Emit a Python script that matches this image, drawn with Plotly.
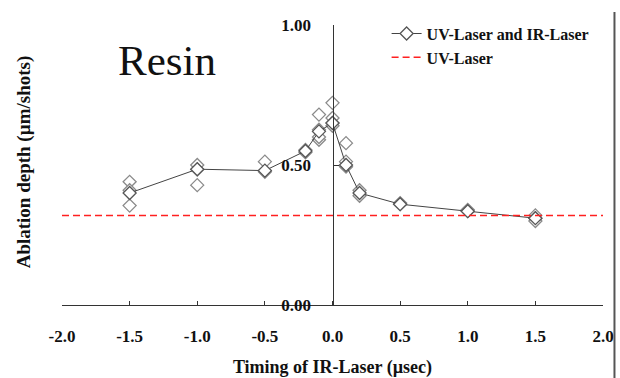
import plotly.graph_objects as go

# Mean curve (line through the measurement groups)
timing_line = [-1.5, -1.0, -0.5, -0.2, -0.1, 0.0, 0.1, 0.2, 0.5, 1.0, 1.5]
depth_line = [0.40, 0.485, 0.48, 0.55, 0.62, 0.65, 0.50, 0.40, 0.36, 0.335, 0.31]

# Individual measurements
timing_pts = [-1.5, -1.5, -1.5, -1.0, -1.0, -1.0, -0.5, -0.5, -0.2, -0.2,
              -0.1, -0.1, -0.1, -0.1, 0.0, 0.0, 0.0, 0.0, 0.1, 0.1, 0.1,
              0.2, 0.2, 0.5, 0.5, 1.0, 1.0, 1.5, 1.5, 1.5]
depth_pts = [0.44, 0.41, 0.355, 0.50, 0.484, 0.428, 0.512, 0.476, 0.554, 0.545,
             0.68, 0.626, 0.59, 0.60, 0.722, 0.668, 0.65, 0.64, 0.578, 0.512, 0.494,
             0.41, 0.39, 0.364, 0.36, 0.34, 0.335, 0.32, 0.31, 0.30]

# UV-laser only reference level
uv_x = [-2.0, 2.0]
uv_depth = [0.32, 0.32]

x_tickvals = [-2.0, -1.5, -1.0, -0.5, 0.0, 0.5, 1.0, 1.5, 2.0]
x_ticktext = ["-2.0", "-1.5", "-1.0", "-0.5", "0.0", "0.5", "1.0", "1.5", "2.0"]
y_tickvals = [0.0, 0.5, 1.0]
y_ticktext = ["0.00", "0.50", "1.00"]

FONT = "Liberation Serif"

fig = go.Figure()

fig.add_trace(go.Scatter(
    x=timing_pts, y=depth_pts, mode="markers", showlegend=False,
    marker=dict(symbol="diamond", size=10, color="white",
                line=dict(color="#8a8a8a", width=1.3)),
    hoverinfo="skip"))

fig.add_trace(go.Scatter(
    x=timing_line, y=depth_line, mode="lines+markers",
    name="UV-Laser and IR-Laser",
    line=dict(color="#444444", width=1),
    marker=dict(symbol="diamond", size=10, color="white",
                line=dict(color="#555555", width=1.3))))

fig.add_trace(go.Scatter(
    x=uv_x, y=uv_depth, mode="lines", name="UV-Laser",
    line=dict(color="#ff2020", width=1.5, dash="7px,4px")))

fig.update_layout(
    width=620, height=378,
    margin=dict(l=62, r=16.5, t=25, b=73, autoexpand=False),
    paper_bgcolor="white", plot_bgcolor="white",
    font=dict(family=FONT, size=16, color="#111111"),
    showlegend=True,
    legend=dict(x=0.6, y=1.03, xanchor="left", yanchor="top",
                bgcolor="rgba(0,0,0,0)", borderwidth=0,
                font=dict(family=FONT, size=16, color="#111111", weight="bold"),
                tracegroupgap=0),
    xaxis=dict(range=[-2, 2], tickvals=x_tickvals, ticktext=x_ticktext,
               automargin=False,
               showgrid=False, zeroline=False, showline=True,
               linecolor="#333333", linewidth=1,
               ticks="inside", ticklen=4, tickcolor="#333333",
               ticklabelstandoff=16,
               tickfont=dict(family=FONT, size=17, weight="bold"),
               title=dict(text="Timing of IR-Laser (µsec)",
                          font=dict(family=FONT, size=18, weight="bold"),
                          standoff=16)),
    yaxis=dict(range=[0, 1], tickvals=y_tickvals, ticktext=y_ticktext,
               anchor="free", position=0.5, automargin=False,
               showgrid=False, zeroline=False, showline=True,
               linecolor="#333333", linewidth=1,
               ticks="inside", ticklen=5, tickcolor="#333333",
               ticklabelstandoff=18,
               tickfont=dict(family=FONT, size=17, weight="bold")),
    annotations=[
        dict(text="Resin", xref="paper", yref="paper", x=0.1, y=0.875,
             xanchor="left", yanchor="middle", showarrow=False,
             font=dict(family=FONT, size=43, color="#111111")),
        dict(text="Ablation depth (µm/shots)", xref="paper", yref="paper",
             x=-0.07, y=0.51, xanchor="center", yanchor="middle",
             textangle=-90, showarrow=False,
             font=dict(family=FONT, size=19, weight="bold", color="#111111")),
    ],
    shapes=[
        dict(type="line", xref="paper", yref="paper",
             x0=1.0212, x1=1.0212, y0=1.046, y1=-0.3,
             line=dict(color="#555555", width=2)),
    ],
)

fig.write_html("out.html")
